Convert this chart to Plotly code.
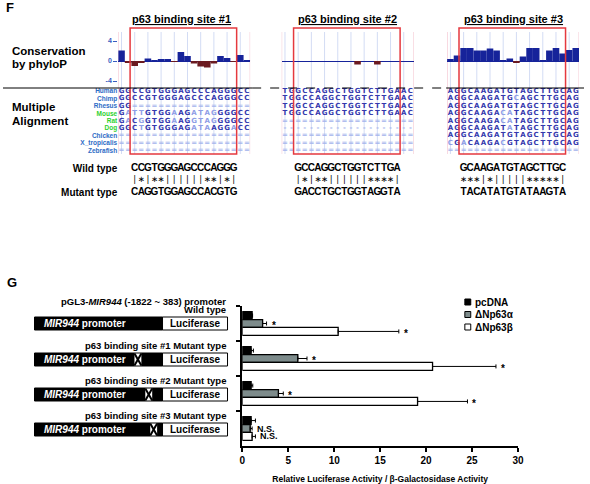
import plotly.graph_objects as go

W, H = 590, 484
def X(px): return px / W
def Y(py): return 1 - py / H

# ----------------------------- DATA -----------------------------
site_titles = ["p63 binding site #1", "p63 binding site #2", "p63 binding site #3"]
species = ["Human", "Chimp", "Rhesus", "Mouse", "Rat", "Dog", "Chicken", "X_tropicalis", "Zebrafish"]
species_group = ["primate", "primate", "primate", "mammal", "mammal", "mammal", "other", "other", "other"]

phylop_site1 = [2.1, -0.4, -1.0, -0.3, 0.5, 0.1, 0.3, 0.3, -0.1, 1.8, 1.0, -0.5, -1.1, -1.3, -0.5, 1.0, 0.6, -0.2, 1.2, 0.1]
phylop_site2 = [0.0, 0.0, 0.0, 0.0, 0.0, 0.0, 0.0, 0.0, 0.0, 0.0, 0.0, -0.7, 0.0, 0.0, -0.7, 0.0, 0.0, 0.0, 0.0, 0.0]
phylop_site3 = [0.4, 1.1, 2.6, 2.6, 2.1, 2.1, 2.5, 2.1, 0.05, 0.5, -0.4, 0.9, 2.6, 2.6, 0.05, 2.1, 2.6, 1.5, 2.2, 2.6]

align_site1 = ["GGCCGTGGGAGCCCAGGGCC", "GGCCGTGGGAGCCCAGGGCC", "GG==================",
               "GATTGTGGAAGATAGGGGCC", "GACGGTGGAAGGTAGGGGCC", "GGCTGTGGGAGATAAGGACC",
               "====================", "====================", "===================="]
align_site2 = ["TGGCCAGGCTGGTCTTGAAC", "TGGCCAGGCTGGTCTTGAAC", "TGGCCAGGCTGGTCTTGAAC",
               "TGGCCAGGCTGGTCTTGAAC", "====================", "--------------------",
               "====================", "====================", "===================="]
align_site3 = ["AGGCAAGATGTAGCTTGCAG", "AGGCAAGATGCAGCTTGCAG", "AGGCAAGATGTAGCTTGCAG",
               "AGGCAAGACATAGCTTGCAG", "AGGCAAGACATAGCTTGCAG", "AGGCAAGATATAGCTTGCAG",
               "AGGCAAGATGTAGCTTGCAG", "CGACAAGACGTAGCTTGCAG", "===================="]

wild_types = ["CCGTGGGAGCCCAGGG", "GCCAGGCTGGTCTTGA", "GCAAGATGTAGCTTGC"]
match_marks = ["|*|**||||||**|*|", "|*|**||||||****|", "***|*|||||*****|"]
mutant_types = ["CAGGTGGAGCCACGTG", "GACCTGCTGGTAGGTA", "TACATATGTATAAGTA"]

constructs = ["Wild type", "p63 binding site #1 Mutant type",
              "p63 binding site #2 Mutant type", "p63 binding site #3 Mutant type"]
series_names = ["pcDNA", "ΔNp63α", "ΔNp63β"]
pcdna_vals = [1.07, 0.96, 0.96, 0.96]
pcdna_err = [0.05, 0.25, 0.18, 0.47]
np63a_vals = [2.21, 6.04, 3.93, 0.86]
np63a_err = [0.43, 1.0, 0.53, 0.21]
np63b_vals = [10.43, 20.7, 19.07, 1.07]
np63b_err = [6.6, 6.9, 5.43, 0.36]
np63a_labels = ["*", "*", "*", "N.S."]
np63b_labels = ["*", "*", "*", "N.S."]

# ----------------------------- STYLE -----------------------------
FONT = "Liberation Sans"
BLUE_POS = "#16239a"
RED_NEG = "#6b1a20"
SEQ_DARK = "#3438ad"
SEQ_LIGHT = "#8e9de6"
GAP_COL = "#a3b3ec"
SPECIES_COL = {"primate": "#2d6cc6", "mammal": "#2ed12e", "other": "#2d6cc6"}
BAR_COLORS = ["#000000", "#7d8b8b", "#ffffff"]

site_start_px = [117, 283, 451]
COLW = 6.7
NCOL = 20
cols = list(range(NCOL))

fig = go.Figure()

# --- phyloP tracks ---
for i, vals in enumerate([phylop_site1, phylop_site2, phylop_site3]):
    fig.add_trace(go.Bar(
        x=cols, y=vals, width=1,
        marker=dict(color=[BLUE_POS if v >= 0 else RED_NEG for v in vals], line=dict(width=0)),
        xaxis=f"x{i+2}", yaxis="y2", showlegend=False, hoverinfo="skip"))

# --- multiple alignment letters ---
for i, rows in enumerate([align_site1, align_site2, align_site3]):
    xs, ys, ts, cs = [], [], [], []
    ref = rows[0]
    for r, seq in enumerate(rows):
        for c, ch in enumerate(seq):
            xs.append(c); ys.append(r); ts.append(ch)
            if ch in "=-":
                cs.append(GAP_COL)
            elif ch == ref[c]:
                cs.append(SEQ_DARK)
            else:
                cs.append(SEQ_LIGHT)
    fig.add_trace(go.Scatter(
        x=xs, y=ys, text=ts, mode="text",
        textfont=dict(family="DejaVu Sans", size=7, color=cs, weight="bold"),
        xaxis=f"x{i+2}", yaxis="y3", showlegend=False, hoverinfo="skip"))

# --- wild / mutant sequences and match marks ---
for i in range(3):
    xs, ys, ts = [], [], []
    for r, s in [(0, wild_types[i]), (2, mutant_types[i])]:
        for k, ch in enumerate(s):
            xs.append(k + 2); ys.append(r); ts.append(ch)
    fig.add_trace(go.Scatter(
        x=xs, y=ys, text=ts, mode="text",
        textfont=dict(family=FONT, size=10, color="black", weight="bold"),
        xaxis=f"x{i+2}", yaxis="y4", showlegend=False, hoverinfo="skip"))
    mx = [k + 2 for k in range(len(match_marks[i]))]
    mt = ["∗" if ch == "*" else ch for ch in match_marks[i]]
    fig.add_trace(go.Scatter(
        x=mx, y=[1] * len(mx), text=mt, mode="text",
        textfont=dict(family="DejaVu Sans", size=8.5, color="black"),
        xaxis=f"x{i+2}", yaxis="y4", showlegend=False, hoverinfo="skip"))

# --- luciferase bar chart ---
gidx = list(range(len(constructs)))
vals_all = [pcdna_vals, np63a_vals, np63b_vals]
errs_all = [pcdna_err, np63a_err, np63b_err]
for k in range(3):
    fig.add_trace(go.Bar(
        y=gidx, x=vals_all[k], orientation="h", name=series_names[k],
        marker=dict(color=BAR_COLORS[k], line=dict(color="black", width=1.3)),
        error_x=dict(type="data", array=errs_all[k], arrayminus=[0] * 4, symmetric=False,
                     color="black", thickness=1, width=2),
        xaxis="x", yaxis="y", showlegend=False, hoverinfo="skip"))

BARGAP = 0.32
bw = (1 - BARGAP) / 3

annotations = []
shapes = []

# significance labels
for k, labels in [(1, np63a_labels), (2, np63b_labels)]:
    for j in gidx:
        annotations.append(dict(
            x=vals_all[k][j] + errs_all[k][j], y=j + (k - 1) * bw, xref="x", yref="y",
            text=labels[j], showarrow=False, xanchor="left", xshift=3,
            yshift=-2 if labels[j] == "*" else 0,
            font=dict(family=FONT, size=9 if labels[j] != "*" else 10, color="black", weight="bold")))

# manual legend
leg_y = [302, 314.5, 327]
for k in range(3):
    shapes.append(dict(type="rect", xref="paper", yref="paper",
                       x0=X(469), x1=X(475), y0=Y(leg_y[k] + 3), y1=Y(leg_y[k] - 3),
                       fillcolor=BAR_COLORS[k], line=dict(color="black", width=1)))
    annotations.append(dict(x=X(477), y=Y(leg_y[k]), xref="paper", yref="paper", text=series_names[k],
                            showarrow=False, xanchor="left", yanchor="middle",
                            font=dict(family=FONT, size=10, color="black", weight="bold")))

# ---------------- Panel F decorations ----------------
annotations.append(dict(x=X(1), y=Y(8), xref="paper", yref="paper", text="F", showarrow=False,
                        xanchor="left", yanchor="middle", font=dict(family=FONT, size=13, color="black", weight="bold")))
title_cx = [181, 350, 518]
for i in range(3):
    annotations.append(dict(x=X(title_cx[i]), y=Y(19), xref="paper", yref="paper",
                            text=f"<u>{site_titles[i]}</u>", showarrow=False, xanchor="center", yanchor="middle",
                            font=dict(family=FONT, size=11, color="black", weight="bold")))
for txt, py in [("Conservation", 51), ("by phyloP", 64), ("Multiple", 107), ("Alignment", 121)]:
    annotations.append(dict(x=X(7), y=Y(py), xref="paper", yref="paper", text=txt, showarrow=False,
                            xanchor="left", yanchor="middle",
                            font=dict(family=FONT, size=11.5, color="black", weight="bold")))

for i in range(3):
    xr = f"x{i+2}"
    for c in range(0, NCOL, 2):
        shapes.append(dict(type="line", xref=xr, yref="paper", x0=c, x1=c, y0=Y(32), y1=Y(154),
                           line=dict(color="#d3dcf4", width=1), layer="below"))
    for ex in (-0.5, 19.5):
        shapes.append(dict(type="line", xref=xr, yref="paper", x0=ex, x1=ex, y0=Y(32), y1=Y(154),
                           line=dict(color="#f4c2ce", width=1), layer="below"))
    shapes.append(dict(type="rect", xref=xr, yref="paper", x0=1.3, x1=17.45, y0=Y(154), y1=Y(28),
                       line=dict(color="#e5393f", width=1.5), fillcolor="rgba(0,0,0,0)"))

# separator line between tracks
shapes.append(dict(type="line", xref="paper", yref="paper", x0=0, x1=X(253), y0=Y(88), y1=Y(88),
                   line=dict(color="black", width=1)))
shapes.append(dict(type="line", xref="paper", yref="paper", x0=X(253), x1=X(450), y0=Y(88), y1=Y(88),
                   line=dict(color="black", width=1, dash="dash")))
shapes.append(dict(type="line", xref="paper", yref="paper", x0=X(450), x1=1, y0=Y(88), y1=Y(88),
                   line=dict(color="black", width=1)))

# ---------------- Panel G decorations ----------------
annotations.append(dict(x=X(2), y=Y(282), xref="paper", yref="paper", text="G", showarrow=False,
                        xanchor="left", yanchor="middle", font=dict(family=FONT, size=13, color="black", weight="bold")))
annotations.append(dict(x=X(228), y=Y(301), xref="paper", yref="paper",
                        text="pGL3-<i>MIR944</i> (-1822 ~ 383) promoter", showarrow=False,
                        xanchor="right", yanchor="middle",
                        font=dict(family=FONT, size=9.5, color="black", weight="bold")))
box_top = [317, 353, 388, 423]
mut_x = [None, 137, 148, 153]
BH = 13
for j, name in enumerate(constructs):
    t = box_top[j]
    annotations.append(dict(x=X(228), y=Y(t - 7.5), xref="paper", yref="paper", text=name, showarrow=False,
                            xanchor="right", yanchor="middle",
                            font=dict(family=FONT, size=9.5, color="black", weight="bold")))
    shapes.append(dict(type="rect", xref="paper", yref="paper", x0=X(32), x1=X(162), y0=Y(t + BH), y1=Y(t),
                       fillcolor="black", line=dict(color="black", width=1)))
    shapes.append(dict(type="rect", xref="paper", yref="paper", x0=X(162), x1=X(228), y0=Y(t + BH), y1=Y(t),
                       fillcolor="white", line=dict(color="black", width=1)))
    annotations.append(dict(x=X(40), y=Y(t + BH / 2), xref="paper", yref="paper",
                            text="<i>MIR944</i> promoter", showarrow=False, xanchor="left", yanchor="middle",
                            font=dict(family=FONT, size=10, color="white", weight="bold")))
    annotations.append(dict(x=X(195), y=Y(t + BH / 2), xref="paper", yref="paper",
                            text="Luciferase", showarrow=False, xanchor="center", yanchor="middle",
                            font=dict(family=FONT, size=10, color="black", weight="bold")))
    if mut_x[j] is not None:
        m = mut_x[j]
        shapes.append(dict(type="rect", xref="paper", yref="paper", x0=X(m - 3.5), x1=X(m + 3.5),
                           y0=Y(t + BH - 0.5), y1=Y(t + 0.5), fillcolor="white", line=dict(width=0)))
        shapes.append(dict(type="line", xref="paper", yref="paper", x0=X(m - 3.5), x1=X(m + 3.5),
                           y0=Y(t + BH - 0.5), y1=Y(t + 0.5), line=dict(color="black", width=2)))
        shapes.append(dict(type="line", xref="paper", yref="paper", x0=X(m - 3.5), x1=X(m + 3.5),
                           y0=Y(t + 0.5), y1=Y(t + BH - 0.5), line=dict(color="black", width=2)))

species_ticktext = [f'<span style="color:{SPECIES_COL[g]}">{s}</span>' for s, g in zip(species, species_group)]

layout = dict(
    width=W, height=H, margin=dict(l=0, r=0, t=0, b=0),
    paper_bgcolor="white", plot_bgcolor="rgba(0,0,0,0)",
    font=dict(family=FONT, color="black"),
    barmode="group", bargap=BARGAP, bargroupgap=0,
    showlegend=False,
    annotations=annotations, shapes=shapes,
    xaxis=dict(domain=[X(243), X(523)], range=[0, 30], tickvals=[0, 5, 10, 15, 20, 25, 30],
               ticks="outside", ticklen=4, tickwidth=1.5, tickcolor="black",
               showline=True, linecolor="black", linewidth=1.8, showgrid=False, zeroline=False,
               tickfont=dict(family=FONT, size=10, color="black", weight="bold"),
               title=dict(text="Relative Luciferase Activity / β-Galactosidase Activity",
                          font=dict(family=FONT, size=8.5, color="black", weight="bold"), standoff=11),
               anchor="y", fixedrange=True),
    yaxis=dict(domain=[Y(446), Y(306)], range=[3.5, -0.5], tickvals=[-0.5, 0.5, 1.5, 2.5],
               showticklabels=False, ticks="outside", ticklen=4, tickwidth=1.5, tickcolor="black",
               showline=True, linecolor="black", linewidth=1.8, showgrid=False, zeroline=False,
               anchor="x", fixedrange=True),
    yaxis2=dict(domain=[Y(86), Y(30)], range=[-5, 6.2], anchor="x2",
                tickvals=[-4, 0, 4], ticktext=["-4", "0", "4"], ticks="outside", ticklen=4,
                tickcolor="#3a5cc0", tickfont=dict(family=FONT, size=7, color="#3a5cc0", weight="bold"),
                showgrid=False, showline=False, zeroline=True, zerolinecolor=BLUE_POS, zerolinewidth=1.2,
                fixedrange=True),
    yaxis3=dict(domain=[Y(154), Y(87.5)], range=[8.5, -0.5], anchor="x2",
                tickvals=list(range(9)), ticktext=species_ticktext, ticks="",
                tickfont=dict(family=FONT, size=6.5, weight="bold"),
                showgrid=False, showline=False, zeroline=False, fixedrange=True),
    yaxis4=dict(domain=[Y(198), Y(162)], range=[2.5, -0.5], anchor="x2",
                tickvals=[0, 2], ticktext=["Wild type", "Mutant type"], ticks="",
                tickfont=dict(family=FONT, size=10, color="black", weight="bold"),
                showgrid=False, showline=False, zeroline=False, fixedrange=True),
)
for i in range(3):
    s = site_start_px[i]
    layout[f"xaxis{i+2}"] = dict(domain=[X(s), X(s + COLW * NCOL)], range=[-0.5, NCOL - 0.5],
                                 anchor="y2", visible=False, fixedrange=True)

fig.update_layout(**layout)
fig.write_html("out.html", config={"displayModeBar": False},
               post_script="document.body.style.margin='0';")
